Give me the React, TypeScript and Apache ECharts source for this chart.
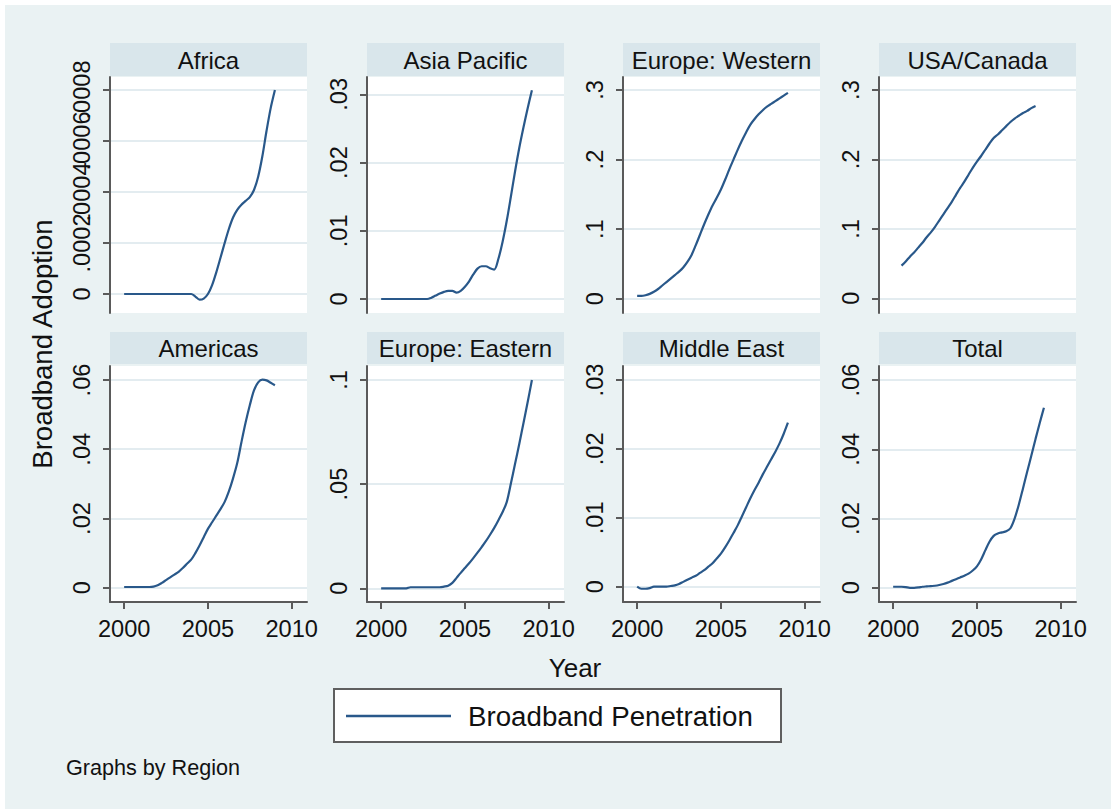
import React, { useEffect, useRef } from "react";
import * as echarts from "echarts";

// ---------- data ----------
const YEARS = [
  2000, 2000.25, 2000.5, 2000.75, 2001, 2001.25, 2001.5, 2001.75,
  2002, 2002.25, 2002.5, 2002.75, 2003, 2003.25, 2003.5, 2003.75,
  2004, 2004.25, 2004.5, 2004.75, 2005, 2005.25, 2005.5, 2005.75,
  2006, 2006.25, 2006.5, 2006.75, 2007, 2007.25, 2007.5, 2007.75,
  2008, 2008.25, 2008.5, 2008.75, 2009,
];

const REGIONS = [
  "Africa", "Asia Pacific", "Europe: Western", "USA/Canada",
  "Americas", "Europe: Eastern", "Middle East", "Total",
];

const AFRICA = [
  0, 0, 0, 0, 0, 0, 0, 0, 0, 0, 0, 0, 0, 0, 0, 0, 0,
  -0.00001, -0.000022, -0.000018, 0, 0.000035, 0.000085, 0.000142,
  0.0002, 0.000255, 0.0003, 0.00033, 0.00035, 0.000365, 0.00038, 0.000408,
  0.00046, 0.00054, 0.00064, 0.00073, 0.0008,
];

const ASIA_PACIFIC = [
  0, 0, 0, 0, 0, 0, 0, 0, 0, 0, 0, 0,
  0.0002, 0.0005, 0.0008, 0.00105, 0.0012, 0.0012, 0.00095, 0.0012,
  0.0018, 0.0026, 0.0036, 0.00445, 0.0048, 0.0048, 0.0045, 0.0043,
  0.0059, 0.0084, 0.0115, 0.0151, 0.0188, 0.0222, 0.0252, 0.028, 0.0306,
];

const EUROPE_WESTERN = [
  0.004, 0.004, 0.005, 0.007, 0.01, 0.014, 0.019, 0.024,
  0.029, 0.034, 0.039, 0.045, 0.053, 0.063, 0.077, 0.092,
  0.107, 0.121, 0.134, 0.145, 0.157, 0.171, 0.186, 0.2,
  0.214, 0.227, 0.239, 0.25, 0.258, 0.265, 0.271, 0.276,
  0.28, 0.284, 0.288, 0.292, 0.296,
];

const USA_CANADA = [
  null, null, 0.047, 0.053, 0.06, 0.066, 0.073, 0.08,
  0.088, 0.095, 0.103, 0.112, 0.121, 0.13, 0.139, 0.149,
  0.159, 0.168, 0.178, 0.188, 0.197, 0.205, 0.214, 0.223,
  0.231, 0.236, 0.242, 0.248, 0.254, 0.259, 0.263, 0.267,
  0.27, 0.274, 0.277, null, null,
];

const AMERICAS = [
  0.0002, 0.0002, 0.0002, 0.0002, 0.0002, 0.0002, 0.0002, 0.0003,
  0.0007, 0.0014, 0.0022, 0.003, 0.0038, 0.0046, 0.0057, 0.0069,
  0.0081, 0.01, 0.0122, 0.0146, 0.017, 0.0189, 0.0208, 0.0227,
  0.0248, 0.0278, 0.0316, 0.036, 0.042, 0.0477, 0.0527, 0.057,
  0.0593, 0.0601, 0.0599, 0.0592, 0.0585,
];

const EUROPE_EASTERN = [
  0, 0, 0, 0, 0, 0, 0, 0.0005,
  0.0005, 0.0005, 0.0005, 0.0005, 0.0005, 0.0005, 0.0005, 0.0008,
  0.0012, 0.0026, 0.005, 0.0074, 0.0097, 0.012, 0.0145, 0.0171,
  0.0198, 0.0226, 0.0257, 0.029, 0.0327, 0.0366, 0.0415, 0.0505,
  0.06, 0.0695, 0.0795, 0.0895, 0.1,
];

const MIDDLE_EAST = [
  0, -0.0003, -0.0003, -0.0002, 0, 0, 0, 0,
  0.0001, 0.0002, 0.0004, 0.0007, 0.001, 0.0013, 0.0016, 0.002,
  0.0024, 0.0029, 0.0034, 0.0041, 0.0048, 0.0057, 0.0067, 0.0078,
  0.0089, 0.0102, 0.0115, 0.0128, 0.014, 0.0151, 0.0163, 0.0174,
  0.0185, 0.0196, 0.0208, 0.0222, 0.0238,
];

const TOTAL = [
  0.0003, 0.0003, 0.0003, 0.0002, 0, 0, 0.0001, 0.0003,
  0.0004, 0.0005, 0.0006, 0.0008, 0.0011, 0.0015, 0.002, 0.0025,
  0.003, 0.0035, 0.0041, 0.005, 0.0062, 0.0082, 0.0108, 0.0133,
  0.015, 0.0157, 0.016, 0.0163, 0.0172, 0.02, 0.024, 0.0287,
  0.0335, 0.0382, 0.043, 0.0476, 0.052,
];

const SERIES_VALUES = [
  AFRICA, ASIA_PACIFIC, EUROPE_WESTERN, USA_CANADA,
  AMERICAS, EUROPE_EASTERN, MIDDLE_EAST, TOTAL,
];

const X_TICKS = [2000, 2005, 2010];

const Y_TICKS = [
  [0, 0.0002, 0.0004, 0.0006, 0.0008],
  [0, 0.01, 0.02, 0.03],
  [0, 0.1, 0.2, 0.3],
  [0, 0.1, 0.2, 0.3],
  [0, 0.02, 0.04, 0.06],
  [0, 0.05, 0.1],
  [0, 0.01, 0.02, 0.03],
  [0, 0.02, 0.04, 0.06],
];

const Y_MIN = [-0.0000745, -0.00205, -0.0205, -0.0212, -0.00413, -0.00658, -0.00222, -0.0041];
const Y_MAX = [0.000851, 0.03254, 0.3187, 0.3188, 0.06405, 0.1067, 0.03203, 0.06405];

const X_MIN = 1999.155;
const X_MAX = 2010.915;

const LEGEND_LABEL = "Broadband Penetration";
const X_TITLE = "Year";
const Y_TITLE = "Broadband Adoption";
const NOTE = "Graphs by Region";

// ---------- layout / style ----------
const FONT = '"Liberation Sans", Arial, Helvetica, sans-serif';
const BG = "#eaf2f3";
const STRIP = "#d9e6eb";
const GRID_LINE = "#e3ecf0";
const AXIS = "#5a5a5a";
const LINE = "#29588a";
const COL_X = [110, 367, 623, 879];
const ROW_Y = [77, 366];
const STRIP_Y = [43, 332];
const STRIP_H = [33, 32];
const PW = 197;
const PH = 236;
const TICK_FONT = 23.6;
const Y_LABEL_MARGIN = 16;

function fmt(v: number) {
  const s = String(Number(Number(v).toPrecision(8)));
  return s.replace(/^0\./, ".").replace(/^-0\./, "-.");
}

export default function App() {
  const ref = useRef<HTMLDivElement>(null);

  useEffect(() => {
    if (!ref.current) return;
    const chart = echarts.init(ref.current, null, { renderer: "svg" });

    const grids: any[] = [];
    const xAxes: any[] = [];
    const yAxes: any[] = [];
    const extraY: any[] = [];
    const series: any[] = [];
    const graphics: any[] = [];

    graphics.push({
      type: "rect",
      z: -100,
      shape: { x: 5, y: 5, width: 1106, height: 804 },
      style: { fill: BG },
      silent: true,
    });

    const yLabel = (values: number[]) => ({
      show: true,
      customValues: values,
      rotate: 90,
      margin: Y_LABEL_MARGIN,
      fontSize: TICK_FONT,
      color: "#111",
      fontFamily: FONT,
      hideOverlap: false,
      showMinLabel: true,
      showMaxLabel: true,
      formatter: (v: number) => fmt(v),
    });

    REGIONS.forEach((name, i) => {
      const r = Math.floor(i / 4);
      const c = i % 4;
      const bottom = r === 1;
      const ticks = Y_TICKS[i];
      // Stata prints every tick label even when they collide (Africa); split the
      // labels over two overlaid axes so the library does not drop any of them.
      const crowded = i === 0;
      const mainLabels = crowded ? ticks.filter((_, k) => k % 2 === 0) : ticks;
      const extraLabels = crowded ? ticks.filter((_, k) => k % 2 === 1) : [];

      grids.push({
        left: COL_X[c],
        top: ROW_Y[r],
        width: PW,
        height: PH,
        show: true,
        backgroundColor: "#ffffff",
        borderWidth: 0,
        containLabel: false,
        outerBoundsMode: "none",
      });
      xAxes.push({
        type: "value",
        gridIndex: i,
        min: X_MIN,
        max: X_MAX,
        axisLine: { show: bottom, onZero: false, lineStyle: { color: AXIS, width: 2 } },
        axisTick: { show: bottom, length: 7, customValues: X_TICKS, lineStyle: { color: AXIS, width: 2 } },
        axisLabel: {
          show: bottom,
          customValues: X_TICKS,
          margin: 15,
          fontSize: TICK_FONT,
          color: "#111",
          fontFamily: FONT,
          formatter: (v: number) => String(Math.round(v)),
        },
        splitLine: { show: false },
      });
      yAxes.push({
        type: "value",
        gridIndex: i,
        min: Y_MIN[i],
        max: Y_MAX[i],
        axisLine: { show: true, onZero: false, lineStyle: { color: AXIS, width: 2 } },
        axisTick: { show: true, length: 7, customValues: ticks, lineStyle: { color: AXIS, width: 2 } },
        axisLabel: yLabel(mainLabels),
        splitLine: { show: true, lineStyle: { color: GRID_LINE, width: 2 } },
      });
      if (extraLabels.length) {
        extraY.push({
          type: "value",
          gridIndex: i,
          position: "left",
          offset: 0,
          min: Y_MIN[i],
          max: Y_MAX[i],
          axisLine: { show: false, onZero: false },
          axisTick: { show: false, customValues: extraLabels },
          axisLabel: yLabel(extraLabels),
          splitLine: { show: false },
        });
      }
      const vals = SERIES_VALUES[i];
      const data: any[] = [];
      YEARS.forEach((y, k) => {
        if (vals[k] !== null && vals[k] !== undefined) data.push([y, vals[k]]);
      });
      series.push({
        type: "line",
        name: LEGEND_LABEL,
        xAxisIndex: i,
        yAxisIndex: i,
        data,
        symbol: "none",
        showSymbol: false,
        smooth: 0.3,
        lineStyle: { color: LINE, width: 2.2 },
        itemStyle: { color: LINE },
        silent: true,
      });
      graphics.push({
        type: "rect",
        z: 1,
        shape: { x: COL_X[c], y: STRIP_Y[r], width: PW, height: STRIP_H[r] },
        style: { fill: STRIP },
        silent: true,
      });
      graphics.push({
        type: "text",
        z: 2,
        x: COL_X[c] + PW / 2,
        y: STRIP_Y[r] + STRIP_H[r] / 2 + 0.5,
        style: {
          text: name,
          font: `24px ${FONT}`,
          fill: "#111",
          align: "center",
          verticalAlign: "middle",
          textAlign: "center",
          textVerticalAlign: "middle",
        },
        silent: true,
      });
    });

    graphics.push({
      type: "text",
      z: 2,
      x: 575,
      y: 668,
      style: {
        text: X_TITLE,
        font: `26px ${FONT}`,
        fill: "#111",
        align: "center",
        verticalAlign: "middle",
        textAlign: "center",
        textVerticalAlign: "middle",
      },
      silent: true,
    });
    graphics.push({
      type: "text",
      z: 2,
      x: 42,
      y: 344,
      rotation: Math.PI / 2,
      style: {
        text: Y_TITLE,
        font: `27.5px ${FONT}`,
        fill: "#111",
        align: "center",
        verticalAlign: "middle",
        textAlign: "center",
        textVerticalAlign: "middle",
      },
      silent: true,
    });
    // legend
    graphics.push({
      type: "rect",
      z: 2,
      shape: { x: 334, y: 689, width: 447, height: 53 },
      style: { fill: "#ffffff", stroke: "#5f5f5f", lineWidth: 2 },
      silent: true,
    });
    graphics.push({
      type: "line",
      z: 3,
      shape: { x1: 346, y1: 716, x2: 451, y2: 716 },
      style: { stroke: LINE, lineWidth: 2.5 },
      silent: true,
    });
    graphics.push({
      type: "text",
      z: 3,
      x: 468,
      y: 716,
      style: {
        text: LEGEND_LABEL,
        font: `27.7px ${FONT}`,
        fill: "#111",
        align: "left",
        verticalAlign: "middle",
        textAlign: "left",
        textVerticalAlign: "middle",
      },
      silent: true,
    });
    graphics.push({
      type: "text",
      z: 2,
      x: 66,
      y: 767,
      style: {
        text: NOTE,
        font: `21.6px ${FONT}`,
        fill: "#111",
        align: "left",
        verticalAlign: "middle",
        textAlign: "left",
        textVerticalAlign: "middle",
      },
      silent: true,
    });

    chart.setOption({
      animation: false,
      backgroundColor: "#ffffff",
      grid: grids,
      xAxis: xAxes,
      yAxis: yAxes.concat(extraY),
      series,
      graphic: { elements: graphics },
    });

    return () => chart.dispose();
  }, []);

  return (
    <div
      ref={ref}
      style={{ position: "absolute", left: 0, top: 0, width: 1111, height: 809 }}
    />
  );
}
